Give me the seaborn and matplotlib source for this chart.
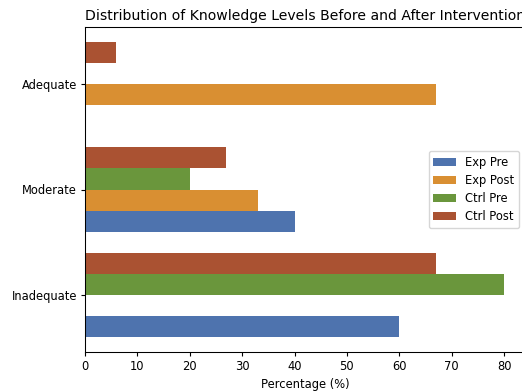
import matplotlib
matplotlib.use("Agg")
import matplotlib.pyplot as plt
import seaborn as sns
import pandas as pd

levels = ["Inadequate", "Moderate", "Adequate"]
groups = ["Exp Pre", "Exp Post", "Ctrl Pre", "Ctrl Post"]
exp_pre = [60, 40, 0]
exp_post = [0, 33, 67]
ctrl_pre = [80, 20, 0]
ctrl_post = [67, 27, 6]
colors = ["#4E73AE", "#D98F32", "#6A963C", "#AA5232"]

rows = []
for g, vals in zip(groups, [exp_pre, exp_post, ctrl_pre, ctrl_post]):
    for lvl, v in zip(levels, vals):
        rows.append({"Level": lvl, "Group": g, "Percentage": v})
df = pd.DataFrame(rows)

sc = 0.83
plt.rcParams.update({
    "xtick.major.size": 3.5 * sc, "ytick.major.size": 3.5 * sc,
    "xtick.major.pad": 3.5 * sc, "ytick.major.pad": 3.5 * sc,
    "axes.labelpad": 4.0 * sc, "axes.titlepad": 6.0 * sc,
    "axes.linewidth": 0.8 * sc + 0.1,
})

fig = plt.figure(figsize=(5.22, 3.91), dpi=100)
ax = fig.add_axes([85 / 522, 39 / 391, 440 / 522, 325 / 391])

sns.barplot(data=df, x="Percentage", y="Level", hue="Group", order=levels,
            hue_order=groups, palette=colors, saturation=1, orient="h",
            linewidth=0, ax=ax, errorbar=None)

ax.set_ylim(-0.54, 2.54)
ax.set_xlim(0, 84)
ax.set_xticks(range(0, 90, 10))
fs = 8.3
ax.tick_params(labelsize=fs)
ax.set_xlabel("Percentage (%)", fontsize=fs)
ax.set_ylabel("")
ax.set_title("Distribution of Knowledge Levels Before and After Intervention",
             fontsize=10.1)
sns.move_legend(ax, "center right", title=None, fontsize=fs,
                borderaxespad=0.5, handlelength=2.0, labelspacing=0.45)

fig.savefig("out.png", dpi=100)
